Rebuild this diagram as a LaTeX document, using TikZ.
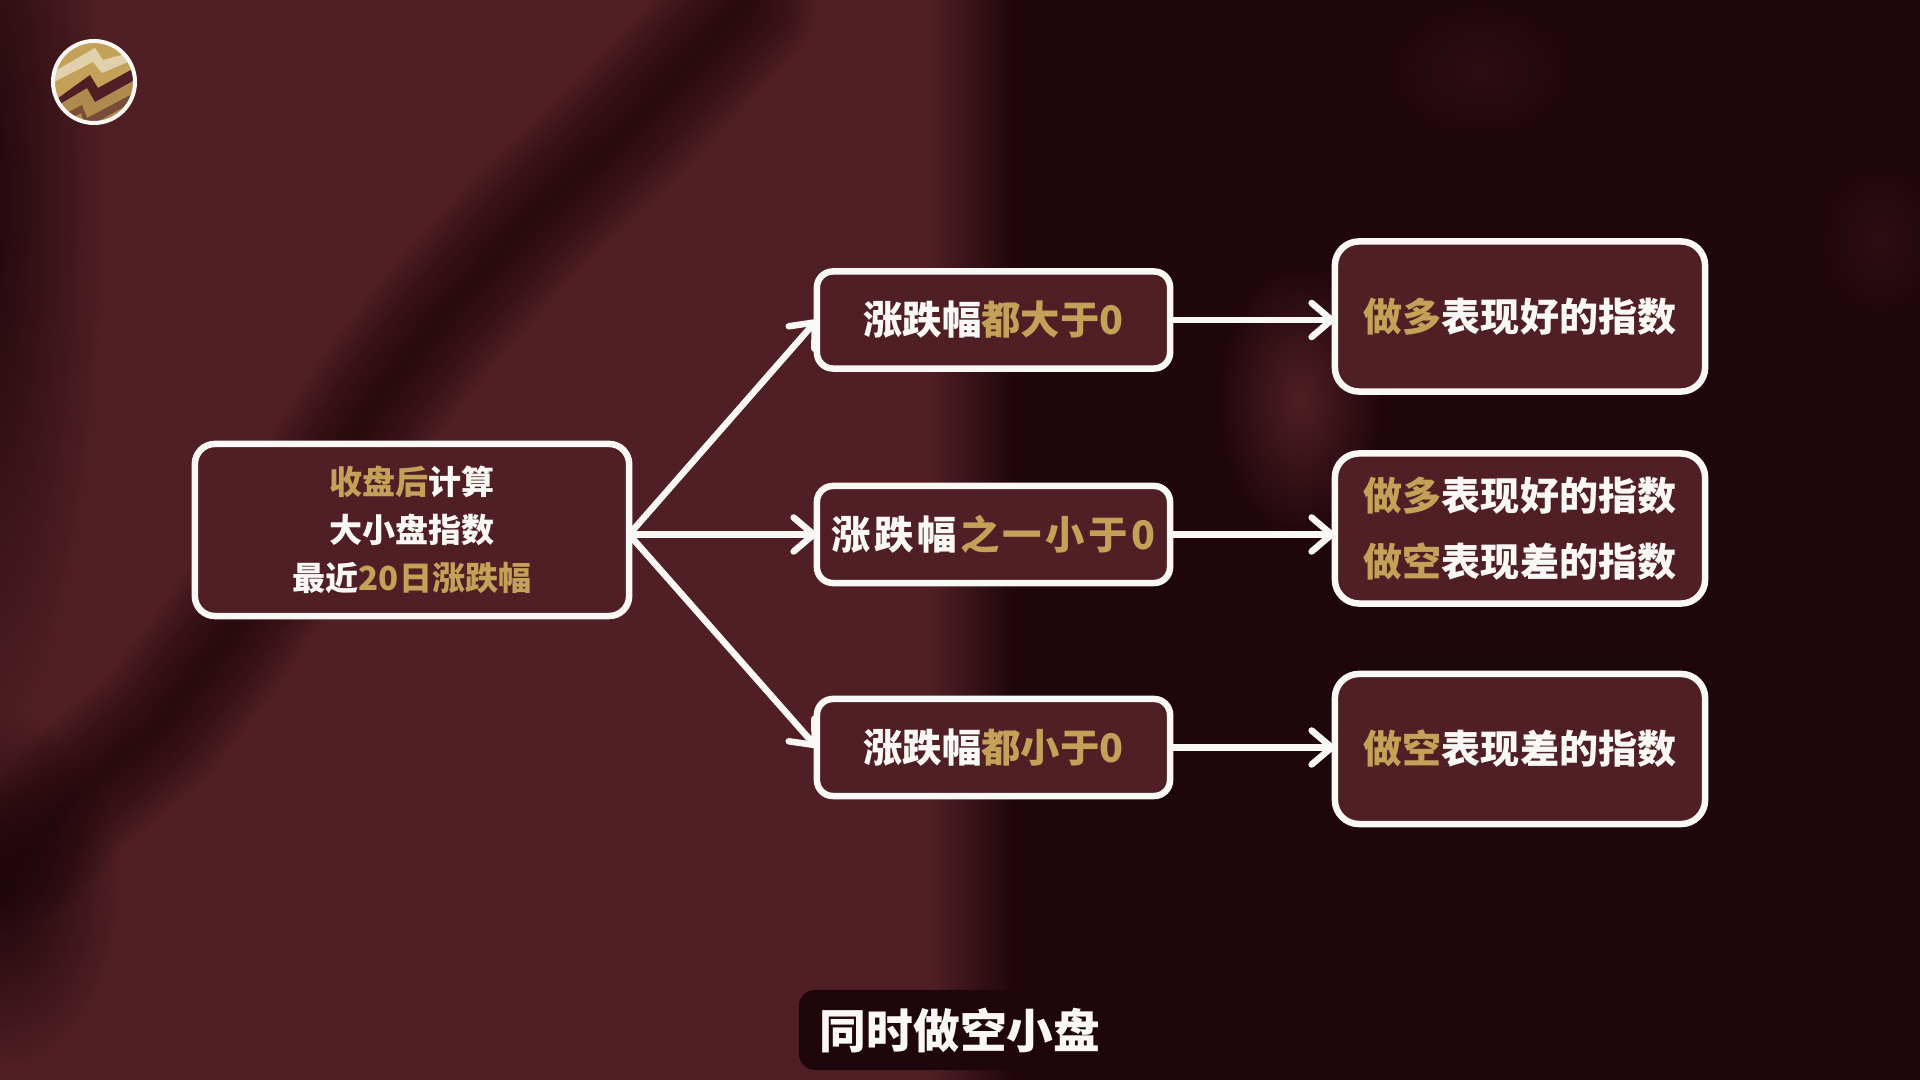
\documentclass[tikz,border=0pt]{standalone}
\usepackage{fontspec}
\setmainfont{Noto Sans CJK SC}
\usetikzlibrary{arrows.meta,fadings}
\definecolor{basec}{HTML}{4F1F25}
\definecolor{darkc}{HTML}{1E060B}
\definecolor{goldc}{HTML}{C3A158}
\definecolor{whitec}{HTML}{FAF8F5}
\newcommand{\gd}[1]{\textcolor{goldc}{#1}}
\newcommand{\gp}{\hspace{1pt}}
\tikzfading[name=softglow,inner color=transparent!0,outer color=transparent!100]

\begin{document}
\begin{tikzpicture}[x=0.01cm,y=-0.01cm,
   box/.style={draw=whitec,fill=basec,line width=0.065cm,rounded corners=0.2cm,inner sep=0pt,outer sep=0pt,
      text=whitec,align=center,font=\bfseries},
   boxa/.style={box,minimum width=4.34cm,minimum height=1.72cm,font=\bfseries\fontsize{9.4pt}{13.7pt}\selectfont},
   boxb/.style={box,minimum width=3.53cm,minimum height=0.97cm,rounded corners=0.16cm,font=\bfseries\fontsize{11.2pt}{14pt}\selectfont},
   boxc/.style={box,minimum width=3.7cm,minimum height=1.5cm,rounded corners=0.24cm,font=\bfseries\fontsize{11.1pt}{18.7pt}\selectfont},
   arr/.style={draw=whitec,line width=0.065cm,-{Straight Barb[length=0.2cm,width=0.34cm,round,line width=0.065cm]}}]
   \useasboundingbox (0,0) rectangle (1920,1080);
   \fill[basec] (0,0) rectangle (1920,1080);
   \shade[left color=basec,right color=darkc] (930,0) rectangle (1015,1080);
   \fill[darkc] (1015,0) rectangle (1920,1080);
   \fill[darkc,path fading=softglow] (-20,200) ellipse (125 and 560);
   \foreach \w in {10,20,...,140}
      \draw[darkc,opacity=.08,line width=\w*0.01cm,line cap=round,line join=round]
         (745,5) -- (628,127) -- (523,227) -- (439,320) -- (377,400) -- (225,640) -- (157,727) -- (78,793) -- (30,850);
   \fill[darkc,path fading=softglow] (0,890) ellipse (120 and 180);
   \fill[basec,path fading=softglow] (1300,400) ellipse (85 and 140);
   \fill[basec,opacity=.3,path fading=softglow] (1480,70) ellipse (110 and 80);
   \fill[basec,opacity=.3,path fading=softglow] (1880,240) ellipse (70 and 90);

   \begin{scope}
      \clip (94,82) circle (41);
      \fill[goldc] (94,82) circle (41);
      \fill[goldc!50!white] (50,74) -- (95,48) -- (103,60) -- (140,50) -- (140,57) -- (102,73) -- (93,62) -- (50,84) -- cycle;
      \fill[goldc!82!basec] (50,110) -- (87,88) -- (95,102) -- (140,76) -- (140,130) -- (50,130) -- cycle;
      \fill[basec] (50,104) -- (90,75) -- (98,88) -- (140,65) -- (140,77) -- (95,102) -- (87,88) -- (50,110) -- cycle;
      \fill[goldc!35!basec] (50,122) -- (82,105) -- (87,118) -- (140,90) -- (140,98) -- (86,128) -- (81,113) -- (50,130) -- cycle;
   \end{scope}
   \draw[whitec,line width=0.04cm] (94,82) circle (41);

   \node[boxa] (a0) at (412,530) {\gd{收盘后}计算\\大小盘指数\\最近\gd{20日涨跌幅}};
   \node[boxb] (b0) at (993.5,320) {涨跌幅\gd{都大于0}};
   \node[boxb] (b1) at (993.5,534.5) {涨\gp 跌\gp 幅\gp \gd{之\gp 一\gp 小\gp 于\gp 0}};
   \node[boxb] (b2) at (993.5,747.5) {涨跌幅\gd{都小于0}};
   \node[boxc] (c0) at (1520,316.5) {\gd{做多}表现好的指数};
   \node[boxc] (c1) at (1520,528.5) {\gd{做多}表现好的指数\\\gd{做空}表现差的指数};
   \node[boxc] (c2) at (1520,749) {\gd{做空}表现差的指数};
   \coordinate (p0) at (a0.east |- b1.west);

   \path (p0) edge[arr] (b0.west);
   \path (p0) edge[arr] (b1.west);
   \path (p0) edge[arr] (b2.west);
   \path (b0.east) edge[arr] (b0.east -| c0.west);
   \path (b1.east) edge[arr] (b1.east -| c1.west);
   \path (b2.east) edge[arr] (b2.east -| c2.west);

   \node[fill=darkc,rounded corners=0.16cm,minimum width=3.22cm,minimum height=0.8cm,inner sep=0pt,
      text=whitec,font=\bfseries\fontsize{13.3pt}{16pt}\selectfont] (s0) at (960,1030) {同时做空小盘};
\end{tikzpicture}
\end{document}
